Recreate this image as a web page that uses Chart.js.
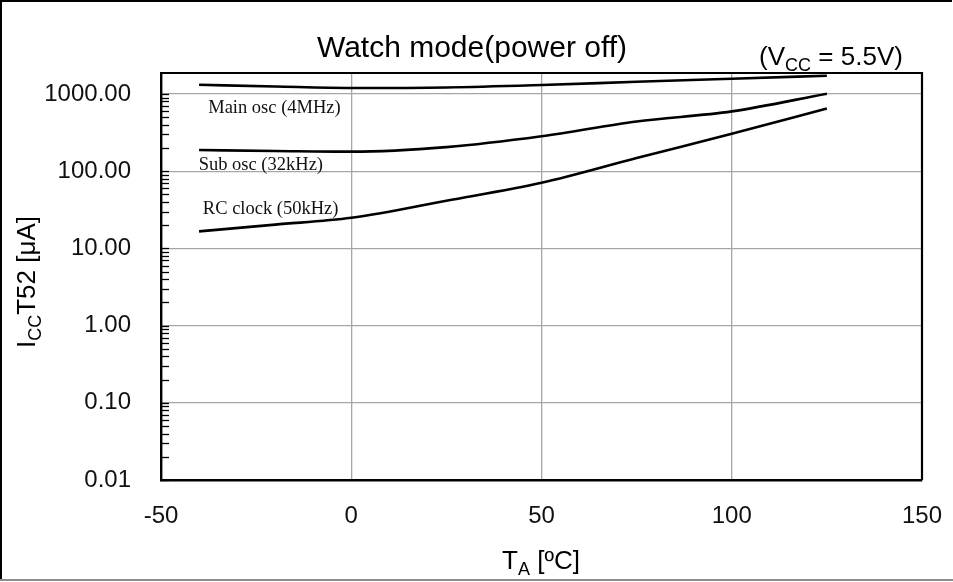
<!DOCTYPE html>
<html>
<head>
<meta charset="utf-8">
<script src="https://cdn.jsdelivr.net/npm/chart.js@4/dist/chart.umd.min.js"></script>
<style>
  html, body { margin: 0; padding: 0; background: #fff; }
  #wrap { width: 953px; height: 582px; position: relative; }
</style>
</head>
<body>
<div id="wrap"><canvas id="c" width="953" height="582"></canvas></div>
<script>
// ---- data ----
const temps = [-40, -20, 0, 25, 50, 75, 100, 125];
const mainOsc = [1318, 1250, 1196, 1215, 1307, 1440, 1577, 1724];
const subOsc  = [188, 183, 179, 205, 283, 440, 595, 1009];
const rcClock = [16.6, 20.3, 24.9, 41.5, 70.7, 148, 306, 650];
const xTicks = [-50, 0, 50, 100, 150];
const yTicks = [0.01, 0.1, 1, 10, 100, 1000];
const seriesNames = ['Main osc (4MHz)', 'Sub osc (32kHz)', 'RC clock (50kHz)'];
const labelAnchorX = [-37.6, -40.1, -39];
const labelAnchorY = [660, 120, 32];

const SANS = '"Liberation Sans", Arial, sans-serif';
const SERIF = '"Liberation Serif", "Times New Roman", serif';
const GRID = '#a6a6a6';

function pts(arr) { return temps.map((t, i) => ({ x: t, y: arr[i] })); }

function drawRich(ctx, parts, x, y, align) {
  let total = 0;
  parts.forEach(p => { ctx.font = p.size + 'px ' + SANS; total += ctx.measureText(p.t).width; });
  let cx = align === 'center' ? x - total / 2 : (align === 'right' ? x - total : x);
  ctx.textAlign = 'left';
  ctx.textBaseline = 'alphabetic';
  parts.forEach(p => {
    ctx.font = p.size + 'px ' + SANS;
    ctx.fillText(p.t, cx, y + (p.sub ? p.size * 0.35 : 0));
    cx += ctx.measureText(p.t).width;
  });
}

const decor = {
  id: 'decor',
  afterDatasetsDraw(chart) {
    const ctx = chart.ctx;
    const a = chart.chartArea;
    const ys = chart.scales.y, xs = chart.scales.x;
    ctx.save();
    // minor ticks on y axis (inside plot)
    ctx.strokeStyle = '#000';
    ctx.lineWidth = 1.3;
    for (let d = 0.01; d <= 1000; d *= 10) {
      for (let m = 1; m <= 9; m++) {
        const v = d * m;
        if (v > ys.max) continue;
        const py = Math.round(ys.getPixelForValue(v)) + 0.5;
        ctx.beginPath();
        ctx.moveTo(a.left, py);
        ctx.lineTo(a.left + 8, py);
        ctx.stroke();
      }
    }
    // top and right borders
    ctx.lineWidth = 2.2;
    ctx.beginPath();
    ctx.moveTo(a.left, a.top);
    ctx.lineTo(a.right, a.top);
    ctx.lineTo(a.right, a.bottom);
    ctx.stroke();
    // curve labels
    ctx.fillStyle = '#111';
    ctx.font = '18.5px ' + SERIF;
    ctx.textAlign = 'left';
    ctx.textBaseline = 'middle';
    seriesNames.forEach((n, i) => {
      ctx.fillText(n, xs.getPixelForValue(labelAnchorX[i]), ys.getPixelForValue(labelAnchorY[i]));
    });
    // tick labels
    ctx.fillStyle = '#111';
    ctx.font = '24px ' + SANS;
    ctx.textBaseline = 'middle';
    ctx.textAlign = 'right';
    yTicks.forEach(v => ctx.fillText(v.toFixed(2), a.left - 30, ys.getPixelForValue(v)));
    ctx.textAlign = 'center';
    xTicks.forEach(v => ctx.fillText(String(v), xs.getPixelForValue(v), a.bottom + 36));
    ctx.restore();
  },
  afterDraw(chart) {
    const ctx = chart.ctx;
    ctx.save();
    ctx.fillStyle = '#000';
    // title
    drawRich(ctx, [{ t: 'Watch mode(power off)', size: 30 }], 472, 57, 'center');
    // condition
    drawRich(ctx, [{ t: '(V', size: 26 }, { t: 'CC', size: 18, sub: true }, { t: ' = 5.5V)', size: 26 }], 831, 65, 'center');
    // x axis title
    drawRich(ctx, [{ t: 'T', size: 26 }, { t: 'A', size: 18, sub: true }, { t: ' [ºC]', size: 26 }], 541, 569, 'center');
    // y axis title
    ctx.save();
    ctx.translate(35, 282);
    ctx.rotate(-Math.PI / 2);
    drawRich(ctx, [{ t: 'I', size: 26 }, { t: 'CC', size: 18, sub: true }, { t: 'T52 [μA]', size: 26 }], 0, 0, 'center');
    ctx.restore();
    // outer frame
    ctx.strokeStyle = '#000';
    ctx.lineWidth = 2;
    ctx.beginPath();
    ctx.moveTo(1, 581); ctx.lineTo(1, 1); ctx.lineTo(952, 1);
    ctx.stroke();
    ctx.strokeStyle = '#8c8c8c';
    ctx.beginPath();
    ctx.moveTo(0, 580); ctx.lineTo(953, 580);
    ctx.stroke();
    ctx.restore();
  }
};

const lineStyle = { borderColor: '#000', borderWidth: 2.6, pointRadius: 0, fill: false, cubicInterpolationMode: 'monotone' };

new Chart(document.getElementById('c'), {
  type: 'line',
  data: {
    datasets: [
      Object.assign({ label: seriesNames[0], data: pts(mainOsc) }, lineStyle),
      Object.assign({ label: seriesNames[1], data: pts(subOsc) }, lineStyle),
      Object.assign({ label: seriesNames[2], data: pts(rcClock) }, lineStyle)
    ]
  },
  options: {
    responsive: false,
    animation: false,
    devicePixelRatio: 1,
    layout: { padding: { left: 0, right: 31, top: 73, bottom: 0 } },
    plugins: { legend: { display: false }, tooltip: { enabled: false }, title: { display: false } },
    scales: {
      x: {
        type: 'linear',
        min: -50, max: 150,
        afterBuildTicks: s => { s.ticks = xTicks.map(v => ({ value: v })); },
        afterFit: s => { s.height = 102; s.paddingLeft = 0; s.paddingRight = 0; },
        grid: {
          drawTicks: false,
          color: c => (c.tick && (c.tick.value === -50 || c.tick.value === 150)) ? 'rgba(0,0,0,0)' : GRID,
          lineWidth: 1.3
        },
        border: { color: '#000', width: 2.4 },
        ticks: { display: false }
      },
      y: {
        type: 'logarithmic',
        min: 0.01, max: 1870,
        afterBuildTicks: s => { s.ticks = yTicks.map(v => ({ value: v })); },
        afterFit: s => { s.width = 161; s.paddingTop = 0; s.paddingBottom = 0; },
        grid: {
          drawTicks: false,
          color: c => (c.tick && c.tick.value === 0.01) ? 'rgba(0,0,0,0)' : GRID,
          lineWidth: 1.3
        },
        border: { color: '#000', width: 2.4 },
        ticks: { display: false }
      }
    }
  },
  plugins: [decor]
});
</script>
</body>
</html>
